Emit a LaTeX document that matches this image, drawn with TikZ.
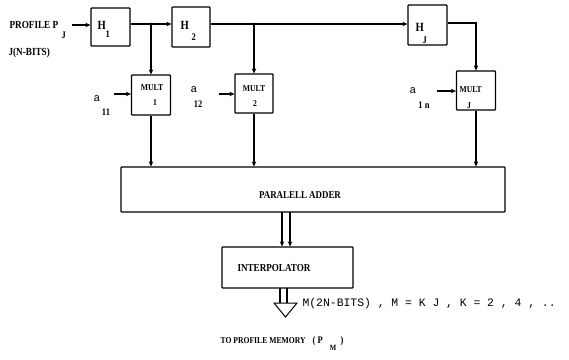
\documentclass[tikz,border=0pt]{standalone}
\usepackage{fontspec}
\setmonofont{Liberation Mono}
\newfontfamily\lblfont[FakeStretch=0.85]{Liberation Serif}
\usetikzlibrary{arrows.meta}
\begin{document}
\begin{tikzpicture}[x=1pt,y=-1pt,
  line width=1.1pt,
  >={Stealth[length=5pt,width=4.5pt]},
  box/.style={draw, line width=1.2pt, inner sep=0pt, rounded corners=0.8pt},
  fs/.style={inner sep=0pt, font=\lblfont\bfseries\fontsize{#1}{#1}\selectfont},
  fn/.style={inner sep=0pt, font=\ttfamily\fontsize{#1}{#1}\selectfont},
  dot/.style={circle, fill, inner sep=0pt, minimum size=3pt}]
\useasboundingbox (0,0) rectangle (569,359);

% boxes
\node[box, minimum width=39pt, minimum height=38pt] (h1) at (110.5,27) {};
\node[box, minimum width=38pt, minimum height=40pt] (h2) at (191,27) {};
\node[box, minimum width=39pt, minimum height=40pt] (hJ) at (427.5,25) {};
\node[box, minimum width=39pt, minimum height=40pt] (m1) at (151,95) {};
\node[box, minimum width=38pt, minimum height=39pt] (m2) at (254,93.5) {};
\node[box, minimum width=39pt, minimum height=39pt] (mJ) at (476,90.5) {};
\node[box, minimum width=384pt, minimum height=45pt] (add) at (313,189.5) {};
\node[box, minimum width=131pt, minimum height=41pt] (int) at (287.5,267.5) {};

% box labels
\node[fs=12.5, anchor=west] (h1t) at (97,25) {H};
\node[fs=10, anchor=west] (h1s) at (105,34) {1};
\node[fs=12.5, anchor=west] (h2t) at (180,25) {H};
\node[fs=10, anchor=west] (h2s) at (191,37) {2};
\node[fs=12.5, anchor=west] (hJt) at (415,27) {H};
\node[fs=10, anchor=west] (hJs) at (422,40) {J};
\node[fs=9] (m1t) at (152,88) {MULT};
\node[fs=9] (m1s) at (155,103) {1};
\node[fs=9] (m2t) at (254,89) {MULT};
\node[fs=9] (m2s) at (255,104) {2};
\node[fs=9, anchor=west] (mJt) at (459,90) {MULT};
\node[fs=9] (mJs) at (469,106) {J};
\node[fs=10.5] (addt) at (300,195) {PARALELL ADDER};
\node[fs=10.7] (intt) at (274,268) {INTERPOLATOR};

% input texts
\node[fs=10.8, anchor=west] (prof) at (9,25) {PROFILE P};
\node[fs=10, anchor=west] (profs) at (61,35) {J};
\node[fs=10.8, anchor=west] (nbits) at (8,53) {J(N-BITS)};
\node[fn=11, anchor=west] (a1) at (93,99) {a};
\node[fs=10] (a1s) at (106,112) {11};
\node[fn=11, anchor=west] (a2) at (190,90) {a};
\node[fs=10] (a2s) at (198,104) {12};
\node[fn=11, anchor=west] (aJ) at (409,91) {a};
\node[fs=10] (aJs) at (424,105) {1 n};

% coordinates
\coordinate (in) at (72,25);
\coordinate (j1) at (151,24);
\coordinate (j2) at (254,24);
\coordinate (tJ) at (476,23);
\coordinate (c1) at (114,94);
\coordinate (c2) at (219,94);
\coordinate (cJ) at (437,91);
\coordinate (d1) at (282,212);
\coordinate (d2) at (290,212);
\coordinate (o1) at (280,288);
\coordinate (o2) at (287,288);
\coordinate (tl) at (274,303);
\coordinate (tr) at (297,303);
\coordinate (tb) at (285.5,317);

% connectors
\draw[->] (in) -- (in -| h1.west);
\draw[->] (j1 -| h1.east) -- (j1 -| h2.west);
\draw[->] (j1) -- (m1.north);
\node[dot] (dj1) at (j1) {};
\draw[->] (j2 -| h2.east) -- (j2 -| hJ.west);
\draw[->] (j2) -- (m2.north);
\node[dot] (dj2) at (j2) {};
\draw[->] (tJ -| hJ.east) -- (tJ) -- (mJ.north);
\draw[->] (c1) -- (c1 -| m1.west);
\draw[->] (c2) -- (c2 -| m2.west);
\draw[->] (cJ) -- (cJ -| mJ.west);
\draw[->] (m1.south) -- (m1.south |- add.north);
\draw[->] (m2.south) -- (m2.south |- add.north);
\draw[->] (mJ.south) -- (mJ.south |- add.north);
\draw[->] (d1) -- (d1 |- int.north);
\draw[->] (d2) -- (d2 |- int.north);
\draw (o1) -- (o1 |- tl);
\draw (o2) -- (o2 |- tl);
\draw[line width=1pt] (tl) -- (tr) -- (tb) -- cycle;

% output texts
\node[fn=11.4, anchor=west] (mtext) at (302,304) {M(2N-BITS) , M = K J , K = 2 , 4 , ..};
\node[fs=9, anchor=west] (tomem) at (220,341) {TO PROFILE MEMORY};
\node[fs=10, anchor=west] (par) at (312,341) {( P};
\node[fs=8] (pms) at (333,348) {M};
\node[fs=10] (par2) at (342,341) {)};
\end{tikzpicture}
\end{document}
